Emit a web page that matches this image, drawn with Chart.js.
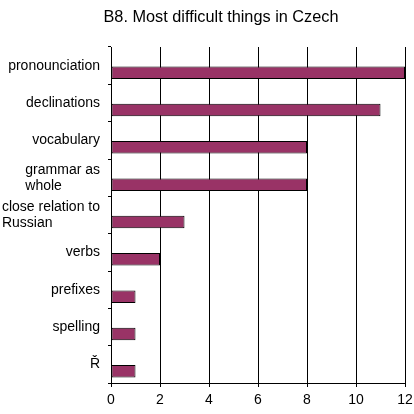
<!DOCTYPE html>
<html>
<head>
<meta charset="utf-8">
<script src="https://cdn.jsdelivr.net/npm/chart.js@4"></script>
<style>
html,body{margin:0;padding:0;background:#fff;}
#c{display:block;}
</style>
</head>
<body>
<canvas id="c" width="414" height="414"></canvas>
<script>
const chartTitle = "B8. Most difficult things in Czech";
const categories = ["pronounciation", "declinations", "vocabulary", ["grammar as", "whole"], ["close relation to", "Russian"], "verbs", "prefixes", "spelling", "Ř"];
const values = [12, 11, 8, 8, 3, 2, 1, 1, 1];
const xTicks = [0, 2, 4, 6, 8, 10, 12];

const FONT = '"Liberation Sans", Arial, sans-serif';

const customText = {
  id: 'customText',
  beforeDatasetsDraw(chart) {
    const y = chart.scales.y;
    const band = y.getPixelForTick(1) - y.getPixelForTick(0);
    chart.ctx.save();
    chart.ctx.translate(0, Math.round(band * 0.18));
  },
  afterDatasetsDraw(chart) {
    chart.ctx.restore();
  },
  afterDraw(chart) {
    const ctx = chart.ctx;
    const y = chart.scales.y;
    ctx.save();
    ctx.fillStyle = '#000';
    ctx.font = '14px ' + FONT;
    ctx.textBaseline = 'middle';
    ctx.textAlign = 'left';
    const lh = 16;
    chart.data.labels.forEach((lab, i) => {
      const lines = Array.isArray(lab) ? lab : [lab];
      const py = y.getPixelForTick(i);
      let w = 0;
      lines.forEach(l => { w = Math.max(w, ctx.measureText(l).width); });
      const x0 = chart.chartArea.left - 11 - w;
      const y0 = py - (lines.length - 1) * lh / 2;
      lines.forEach((l, k) => ctx.fillText(l, x0, y0 + k * lh));
    });
    ctx.font = '16.3px ' + FONT;
    ctx.textAlign = 'center';
    ctx.fillText(chartTitle, 221, 18);
    ctx.restore();
  }
};

new Chart(document.getElementById('c'), {
  type: 'bar',
  data: {
    labels: categories,
    datasets: [{
      label: chartTitle,
      data: values,
      backgroundColor: '#993366',
      borderColor: '#000',
      borderWidth: 1,
      borderSkipped: false,
      barPercentage: 0.9,
      categoryPercentage: 0.37
    }]
  },
  options: {
    indexAxis: 'y',
    responsive: false,
    animation: false,
    devicePixelRatio: 1,
    layout: { padding: { top: 47, right: 9, left: 0, bottom: 0 } },
    plugins: {
      legend: { display: false },
      title: { display: false },
      tooltip: { enabled: false }
    },
    scales: {
      x: {
        type: 'linear',
        min: 0,
        max: 12,
        afterBuildTicks(scale) { scale.ticks = xTicks.map(v => ({ value: v })); },
        afterFit(scale) { scale.height = 31; scale.paddingRight = 0; scale.paddingLeft = 0; },
        grid: { color: '#000', lineWidth: 1, tickLength: 4, drawTicks: true },
        border: { color: '#000', width: 1 },
        ticks: { color: '#000', font: { family: FONT, size: 14 }, padding: 5, maxRotation: 0 }
      },
      y: {
        afterFit(scale) { scale.width = 111; },
        grid: { color: '#000', drawOnChartArea: false, tickLength: 3, offset: true },
        border: { color: '#000', width: 1 },
        ticks: { display: false }
      }
    }
  },
  plugins: [customText]
});
</script>
</body>
</html>
